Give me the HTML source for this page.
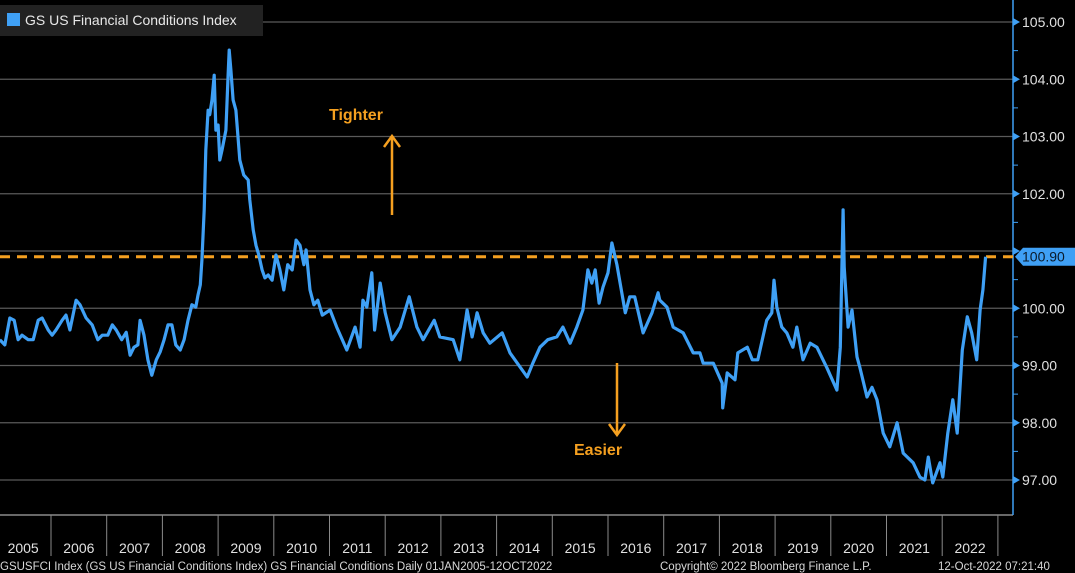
<!DOCTYPE html>
<html><head><meta charset="utf-8"><style>
body{margin:0;background:#000;width:1075px;height:573px;overflow:hidden;font-family:"Liberation Sans",sans-serif}
svg{display:block}
</style></head><body>
<svg id="chart" width="1075" height="573" xmlns="http://www.w3.org/2000/svg">
<rect x="0" y="0" width="1075" height="573" fill="#000"/>
<g id="grid"></g>
<g id="xaxis"></g>
<g id="yaxis"></g>
<line id="refline" stroke="#f5a020" stroke-width="3" stroke-dasharray="10,7"/>
<path id="series" fill="none" stroke="#3fa0f5" stroke-width="3.2" stroke-linejoin="round"/>
<g id="lastval"></g>
<g>
<rect x="0" y="5" width="263" height="31" fill="#222"/>
<rect x="7" y="13" width="13" height="13" fill="#3fa0f5"/>
<text x="25" y="25" fill="#e8e8e8" font-size="14">GS US Financial Conditions Index</text>
</g>
<g>
<text x="329" y="120" fill="#f5a020" font-size="16" font-weight="bold">Tighter</text>
<line x1="392" y1="215" x2="392" y2="138" stroke="#f5a020" stroke-width="2.5"/>
<polyline points="384,147 392,136 400,147" fill="none" stroke="#f5a020" stroke-width="2.5"/>
</g>
<g>
<text x="574" y="455" fill="#f5a020" font-size="16" font-weight="bold">Easier</text>
<line x1="617" y1="363" x2="617" y2="433" stroke="#f5a020" stroke-width="2.5"/>
<polyline points="609,424 617,435 625,424" fill="none" stroke="#f5a020" stroke-width="2.5"/>
</g>
<g fill="#d8d8d8" font-size="11.5">
<text x="0" y="570">GSUSFCI Index (GS US Financial Conditions Index) GS Financial Conditions  Daily 01JAN2005-12OCT2022</text>
<text x="660" y="570">Copyright© 2022 Bloomberg Finance L.P.</text>
<text x="938" y="570">12-Oct-2022 07:21:40</text>
</g>
</svg>
<script>
const yTicks=[97,98,99,100,101,102,103,104,105];
const yearLabels=[2005,2006,2007,2008,2009,2010,2011,2012,2013,2014,2015,2016,2017,2018,2019,2020,2021,2022];
const refValue=100.90;
const dates=[2005.08,2005.17,2005.26,2005.34,2005.41,2005.48,2005.59,2005.68,2005.77,2005.84,2005.95,2006.02,2006.09,2006.20,2006.27,2006.34,2006.45,2006.52,2006.63,2006.74,2006.84,2006.92,2007.02,2007.10,2007.17,2007.27,2007.35,2007.42,2007.49,2007.56,2007.60,2007.67,2007.74,2007.81,2007.89,2007.96,2008.03,2008.10,2008.17,2008.24,2008.32,2008.39,2008.46,2008.53,2008.60,2008.64,2008.68,2008.71,2008.75,2008.78,2008.82,2008.85,2008.89,2008.93,2008.96,2009.00,2009.03,2009.07,2009.14,2009.18,2009.20,2009.23,2009.27,2009.32,2009.39,2009.46,2009.54,2009.57,2009.63,2009.68,2009.73,2009.79,2009.84,2009.90,2009.97,2010.04,2010.11,2010.18,2010.25,2010.33,2010.40,2010.47,2010.54,2010.58,2010.65,2010.72,2010.79,2010.87,2011.01,2011.13,2011.31,2011.46,2011.55,2011.60,2011.67,2011.76,2011.81,2011.91,2012.00,2012.12,2012.27,2012.43,2012.57,2012.68,2012.88,2012.98,2013.22,2013.34,2013.47,2013.56,2013.65,2013.76,2013.88,2014.10,2014.24,2014.55,2014.65,2014.78,2014.92,2015.08,2015.19,2015.32,2015.44,2015.55,2015.64,2015.71,2015.77,2015.84,2015.91,2016.00,2016.07,2016.16,2016.31,2016.39,2016.48,2016.63,2016.79,2016.90,2016.93,2017.06,2017.17,2017.35,2017.53,2017.65,2017.71,2017.89,2018.05,2018.06,2018.14,2018.28,2018.33,2018.50,2018.59,2018.69,2018.77,2018.85,2018.94,2018.98,2019.03,2019.12,2019.21,2019.32,2019.39,2019.50,2019.63,2019.75,2019.93,2020.11,2020.17,2020.20,2020.22,2020.24,2020.31,2020.38,2020.47,2020.52,2020.65,2020.74,2020.83,2020.94,2021.06,2021.19,2021.30,2021.48,2021.60,2021.69,2021.75,2021.83,2021.96,2022.01,2022.10,2022.19,2022.27,2022.36,2022.45,2022.53,2022.62,2022.68,2022.73,2022.78];
const values=[99.45,99.36,99.83,99.79,99.45,99.53,99.45,99.45,99.79,99.83,99.62,99.53,99.62,99.79,99.88,99.62,100.14,100.06,99.83,99.71,99.45,99.53,99.53,99.71,99.62,99.45,99.58,99.18,99.32,99.36,99.79,99.53,99.10,98.83,99.10,99.24,99.45,99.71,99.71,99.36,99.27,99.45,99.79,100.06,100.02,100.23,100.41,100.84,101.72,102.76,103.46,103.38,103.64,104.07,103.11,103.20,102.59,102.76,103.11,104.07,104.51,104.16,103.64,103.46,102.59,102.33,102.24,101.89,101.37,101.10,100.93,100.67,100.53,100.58,100.49,100.93,100.67,100.32,100.76,100.67,101.19,101.10,100.76,101.02,100.32,100.06,100.14,99.88,99.97,99.67,99.27,99.67,99.32,100.14,100.02,100.62,99.62,100.44,99.92,99.45,99.67,100.20,99.67,99.45,99.79,99.50,99.45,99.10,99.97,99.50,99.92,99.57,99.39,99.57,99.22,98.80,99.04,99.32,99.45,99.50,99.67,99.39,99.67,99.97,100.67,100.44,100.67,100.09,100.37,100.62,101.14,100.76,99.92,100.20,100.20,99.57,99.92,100.27,100.14,100.02,99.67,99.57,99.22,99.22,99.04,99.04,98.69,98.26,98.87,98.75,99.22,99.32,99.10,99.10,99.45,99.79,99.92,100.49,100.02,99.67,99.57,99.32,99.67,99.10,99.39,99.32,98.96,98.57,99.32,100.72,101.72,100.72,99.67,99.97,99.15,98.97,98.45,98.62,98.40,97.82,97.58,98.00,97.47,97.30,97.05,97.00,97.40,96.95,97.30,97.05,97.82,98.40,97.82,99.27,99.85,99.57,99.10,99.97,100.32,100.90];

const NS='http://www.w3.org/2000/svg';
const X0=51, XS=55.7, PLOT_R=1013, PLOT_B=515;
function xScale(d){return X0+(d-2006)*XS;}
function yScale(v){return 22+(105-v)*57.25;}
function mk(tag,attrs,parent){const e=document.createElementNS(NS,tag);for(const k in attrs)e.setAttribute(k,attrs[k]);parent.appendChild(e);return e;}

const grid=document.getElementById('grid');
const yaxis=document.getElementById('yaxis');
const xaxis=document.getElementById('xaxis');
const lastV=values[values.length-1];
const ly=yScale(lastV);
yTicks.forEach(v=>{
  const y=yScale(v);
  const gl=mk('line',{x1:0,x2:PLOT_R,y1:y,y2:y,stroke:'#5a5a5a','stroke-width':1.2},grid);
  
  
  const tri=mk('polygon',{points:(PLOT_R)+','+(y-4)+' '+(PLOT_R+7)+','+y+' '+(PLOT_R)+','+(y+4),fill:'#3fa0f5'},yaxis);
  
  
  if(Math.abs(y-ly)>16){
    const t=mk('text',{x:PLOT_R+9,y:y+5,fill:'#e0e0e0','font-size':14},yaxis);
    t.textContent=v.toFixed(2);
    
    
  }
  const my=yScale(v-0.5);
  if(v>97){const m=mk('line',{x1:PLOT_R,x2:PLOT_R+5,y1:my,y2:my,stroke:'#3fa0f5','stroke-width':1},yaxis);
  
  }
});
const ax=mk('line',{x1:PLOT_R,x2:PLOT_R,y1:0,y2:PLOT_B,stroke:'#3fa0f5','stroke-width':1.5},yaxis);



const xl=mk('line',{x1:0,x2:PLOT_R,y1:PLOT_B,y2:PLOT_B,stroke:'#8a8a8a','stroke-width':1.5},xaxis);


yearLabels.forEach(yr=>{
  const xs=xScale(yr+1);
  const sep=mk('line',{x1:xs,x2:xs,y1:PLOT_B,y2:556,stroke:'#8a8a8a','stroke-width':1},xaxis);
  
  
  const t=mk('text',{x:xScale(yr+0.5),y:553,fill:'#e0e0e0','font-size':14,'text-anchor':'middle'},xaxis);
  t.textContent=String(yr);
  
  
});

const ry=yScale(refValue);
const ref=document.getElementById('refline');
ref.setAttribute('x1',0);ref.setAttribute('x2',PLOT_R);ref.setAttribute('y1',ry);ref.setAttribute('y2',ry);

let d='';
dates.forEach((dt,i)=>{d+=(i?'L':'M')+xScale(dt).toFixed(1)+','+yScale(values[i]).toFixed(1);});
document.getElementById('series').setAttribute('d',d);

const lv=document.getElementById('lastval');
const box=mk('polygon',{points:(PLOT_R+2)+','+ly+' '+(PLOT_R+10)+','+(ly-9)+' 1075,'+(ly-9)+' 1075,'+(ly+9)+' '+(PLOT_R+10)+','+(ly+9),fill:'#3fa0f5'},lv);


const lt=mk('text',{x:PLOT_R+9,y:ly+5,fill:'#0a1a2a','font-size':14},lv);
lt.textContent=lastV.toFixed(2);


</script>
</body></html>
